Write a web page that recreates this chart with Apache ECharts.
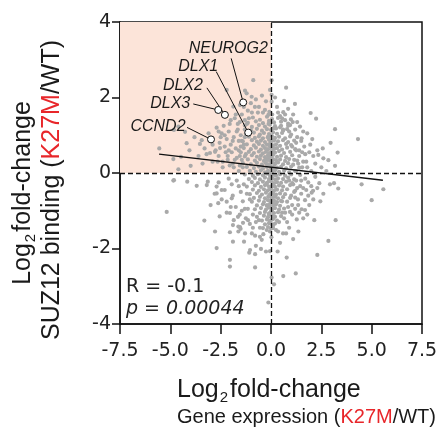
<!DOCTYPE html>
<html>
<head>
<meta charset="utf-8">
<script src="https://cdn.jsdelivr.net/npm/echarts@6/dist/echarts.min.js"></script>
<style>
  html, body { margin: 0; padding: 0; background: #fff; }
  #chart { width: 442px; height: 435px; }
</style>
</head>
<body>
<div id="chart"></div>
<script>
// x = log2 fold-change gene expression, y = log2 fold-change SUZ12 binding
const spreadPoints = [
  [-5.55,0.65],[-4.85,0.37],[-3.99,0.19],[-4.6,0.1],[-4.47,0.43],[-4.19,0.79],[-3.44,0.87],[-3.53,0.77],
  [-4.27,1.09],[-4.82,1.14],[-4.6,1.23],[-3.1,1.05],[-2.7,1.2],[-2.2,2.2],[-1.87,1.76],[-1.54,1.8],
  [-0.88,2.46],[-1.29,2.18],[-0.96,2.02],[-1.21,2.11],[-0.3,1.67],[-0.13,1.54],[-0.05,2.2],[-2.5,0.95],
  [-2.3,0.7],[-2.6,0.45],[-3.2,0.5],[-2.9,0.3],[-3.4,0.25],[-2.05,1.3],[-1.8,1.45],[-1.95,0.55],
  [-2.15,0.35],[-1.7,1.1],[-1.6,0.85],[-1.45,1.55],[-1.3,1.4],[-1.15,1.65],[-1.0,1.85],[-0.75,1.95],
  [-0.6,1.75],[-0.45,2.05],[-0.25,1.9],[-1.9,0.25],[-1.55,0.2],[-1.75,0.65],[-2.4,0.15],[-2.75,0.6],
  [-3.6,0.45],[-4.05,0.6],[-3.8,0.95],[-2.45,1.05],[-2.2,0.9],[-3.03,0.53],[-2.78,0.56],[-2.53,0.66],
  [-2.35,1.25],[-2.1,1.1],[-1.85,0.95],[-1.65,1.3],[-1.5,0.55],[-1.7,0.4],[-2.0,0.75],[-2.25,0.55],
  [-1.45,0.35],[-1.6,0.05],[-1.85,0.15],[-2.15,0.45],[-1.35,0.75],[-1.5,1.0],[-1.75,1.55],[-1.3,1.15],
  [-1.55,1.35],[-2.55,0.8],[-2.0,1.4],
  [-2.4,0.3],[-2.05,0.2],[-1.8,0.35],[-1.4,0.15],[-1.25,0.5],[-1.6,0.6],[-1.9,0.85],[-2.3,1.0],
  [-1.45,0.85],[-1.2,1.3],[-1.65,1.15],[-2.6,1.1],[-2.9,0.75],[-3.3,0.65],[-2.65,0.3],[-1.35,1.75],
  [-0.65,1.6],[-0.95,1.6],[-0.4,1.6],[-0.8,1.75],[-1.1,1.45],[-1.5,0.7],[-2.1,0.6],[-1.3,0.95],[-1.55,0.45],
  [0.75,2.26],[0.65,1.91],[1.19,1.83],[1.97,1.59],[2.24,1.44],[3.18,1.16],[0.61,1.61],[0.45,1.51],
  [0.99,1.42],[1.08,1.35],[0.03,2.46],[0.03,2.07],[0.03,1.89],[1.44,1.23],[1.52,0.92],[4.32,0.9],
  [2.96,0.8],[3.31,0.54],[2.57,0.65],[2.35,0.48],[2.6,0.39],[2.85,0.34],[3.18,0.19],[1.8,1.05],
  [2.05,0.9],[1.65,0.7],[1.9,0.55],[2.2,0.25],[2.5,0.15],[1.75,0.3],[1.4,0.45],[1.3,0.95],
  [1.55,0.15],[2.0,0.05],[2.75,0.05],[1.2,1.15],[0.85,1.7],[0.3,1.75],[0.2,2.0],[0.5,1.25],[1.1,1.55],
  [1.25,0.6],[1.5,0.85],[1.7,0.5],[1.35,0.25],[1.95,0.75],[2.3,0.6],[1.6,1.1],[1.25,0.05],[1.8,0.15],[2.1,0.45],
  [0.55,1.45],[0.85,1.25],[1.25,0.8],[1.05,0.7],[0.9,1.1],[0.7,1.55],[1.4,0.6],[1.15,0.35],
  [1.55,0.55],[0.35,1.6],[1.6,0.3],[1.3,1.35],[0.6,1.15],
  [5.58,-0.43],[5.0,-0.72],[4.5,-0.3],[3.34,-0.41],[3.13,-0.27],[2.93,-0.3],[2.4,-0.27],[3.21,-1.25],
  [2.15,-1.25],[1.6,-1.2],[1.28,-1.23],[1.69,-0.98],[1.52,-0.96],[0.94,-1.03],[1.69,-0.72],[1.34,-0.7],
  [2.09,-0.47],[2.02,-0.52],[0.1,-1.46],[1.36,-1.55],[2.85,-1.8],[0.78,-2.24],[2.3,-2.17],[1.23,-2.66],
  [0.61,-2.73],[0.03,-2.77],[0.15,-2.95],[0.25,-1.51],[0.33,-2.08],[1.85,-0.25],[2.2,-0.1],[2.6,-0.55],
  [1.45,-0.35],[1.15,-0.5],[1.9,-0.85],[1.05,-0.85],[0.8,-1.3],[0.6,-1.6],[0.45,-1.85],[1.1,-1.75],
  [0.9,-1.45],[2.45,-0.75],[0.7,-1.05],[1.25,-0.2],[1.5,-0.55],[1.7,-0.15],[2.0,-0.35],[1.35,-0.85],
  [1.6,-0.4],[1.2,-0.65],[1.85,-0.6],[2.3,-0.4],[1.45,-0.05],[1.1,-0.3],[1.05,-1.1],
  [0.55,-0.75],[0.85,-0.9],[1.3,-0.4],[1.0,-0.6],[0.65,-1.2],[0.4,-1.3],[1.2,-0.95],[0.9,-0.2],
  [1.4,-1.05],[0.35,-1.55],[0.55,-1.05],[1.75,-0.45],[2.1,-0.7],[0.75,-1.6],[1.5,-0.2],[1.8,-1.1],
  [-4.82,-0.19],[-4.85,-0.2],[-4.16,-0.23],[-3.69,-0.34],[-3.14,-0.23],[-3.19,-0.32],[-5.18,-1.03],[-3.31,-1.26],
  [-2.78,-1.55],[-2.7,-1.99],[-2.04,-2.3],[-2.04,-2.48],[-0.79,-2.5],[-2.04,-1.57],[-1.62,-1.42],[-1.51,-1.48],
  [-1.29,-1.6],[-0.79,-1.66],[-0.55,-1.69],[-0.38,-1.62],[-0.21,-1.51],[-1.34,-1.82],[-0.75,-1.93],[-0.46,-1.77],
  [-1.08,-2.11],[-0.79,-2.15],[-0.5,-2.01],[-0.25,-2.08],[-0.05,-2.07],[-0.13,-3.43],[-2.6,-0.25],[-2.3,-0.45],
  [-2.1,-0.15],[-2.45,-0.7],[-1.9,-0.6],[-1.75,-0.9],[-2.2,-1.05],[-1.55,-1.1],[-1.85,-1.25],[-1.4,-0.75],
  [-1.25,-1.2],[-1.05,-1.35],[-2.8,-0.55],[-3.0,-0.85],[-2.55,-1.15],[-1.6,-0.35],[-1.95,-0.3],[-1.15,-0.95],
  [-0.9,-1.45],[-0.6,-1.25],[-1.62,-1.55],[-1.89,-1.82],[-1.04,-2.04],[-2.04,-1.06],[-1.64,-1.16],[-1.39,-1.32],
  [-1.14,-1.25],[-1.89,-1.38],[-1.54,-1.43],[-2.7,-0.36],[-2.45,-0.45],[-2.7,-0.54],[-2.62,-0.8],[-2.2,-0.76],[-1.95,-0.67],
  [-1.35,-0.3],[-1.2,-0.55],[-0.9,-1.1],[-1.5,-0.5],[-1.05,-0.7],[-0.75,-1.3],[-0.55,-1.45],[-1.7,-0.2],
  [-1.3,-0.95],[-0.95,-1.6],[-2.0,-0.9],[-1.45,-1.0]
];

const corePoints = [
  [-0.9,1.47],[-0.55,1.41],[-0.2,1.49],[0.05,1.43],[0.35,1.46],[0.7,1.4],
  [-1.15,1.33],[-0.75,1.37],[-0.4,1.32],[-0.1,1.38],[0.15,1.34],[0.5,1.36],[0.85,1.31],
  [-1.3,1.26],[-0.95,1.22],[-0.6,1.27],[-0.3,1.23],[-0.05,1.28],[0.2,1.24],[0.45,1.21],[0.95,1.27],
  [-1.0,1.13],[-0.7,1.17],[-0.45,1.12],[-0.2,1.16],[0.0,1.14],[0.25,1.18],[0.6,1.12],[0.8,1.16],
  [-1.25,1.04],[-0.85,1.07],[-0.55,1.02],[-0.35,1.06],[-0.1,1.03],[0.1,1.08],[0.3,1.04],[0.55,1.06],[1.0,1.02],
  [-1.1,0.96],[-0.8,0.93],[-0.6,0.97],[-0.4,0.92],[-0.15,0.95],[0.05,0.98],[0.2,0.93],[0.4,0.96],[0.7,0.92],[0.95,0.97],
  [-1.4,0.84],[-0.95,0.87],[-0.7,0.83],[-0.5,0.86],[-0.3,0.82],[-0.1,0.88],[0.0,0.83],[0.15,0.86],[0.35,0.84],[0.6,0.87],[0.85,0.82],[1.15,0.86],
  [-1.2,0.76],[-0.85,0.73],[-0.6,0.77],[-0.4,0.72],[-0.2,0.75],[-0.05,0.78],[0.1,0.73],[0.25,0.76],[0.45,0.72],[0.75,0.77],[1.0,0.74],
  [-1.35,0.66],[-1.0,0.63],[-0.75,0.67],[-0.5,0.62],[-0.3,0.66],[-0.15,0.63],[0.0,0.68],[0.15,0.64],[0.3,0.66],[0.55,0.62],[0.8,0.67],[1.2,0.63],
  [-1.1,0.56],[-0.85,0.53],[-0.6,0.57],[-0.4,0.52],[-0.25,0.56],[-0.1,0.53],[0.05,0.57],[0.2,0.54],[0.4,0.58],[0.65,0.53],[0.95,0.56],
  [-1.3,0.44],[-0.95,0.47],[-0.7,0.43],[-0.5,0.46],[-0.3,0.42],[-0.15,0.47],[0.0,0.44],[0.1,0.48],[0.3,0.43],[0.5,0.46],[0.75,0.42],[1.05,0.47],
  [-1.15,0.36],[-0.8,0.33],[-0.55,0.37],[-0.35,0.32],[-0.2,0.36],[-0.05,0.33],[0.1,0.37],[0.25,0.34],[0.45,0.36],[0.7,0.32],[0.9,0.37],[1.3,0.33],
  [-1.4,0.26],[-1.0,0.23],[-0.7,0.27],[-0.45,0.22],[-0.25,0.26],[-0.1,0.23],[0.05,0.27],[0.2,0.24],[0.35,0.28],[0.6,0.23],[0.85,0.26],[1.1,0.22],
  [-1.2,0.16],[-0.85,0.13],[-0.6,0.17],[-0.4,0.12],[-0.2,0.16],[0.0,0.13],[0.15,0.17],[0.3,0.14],[0.5,0.16],[0.75,0.12],[1.0,0.17],[1.4,0.14],
  [-1.05,0.06],[-0.75,0.03],[-0.5,0.07],[-0.3,0.02],[-0.15,0.06],[0.05,0.04],[0.2,0.07],[0.4,0.03],[0.65,0.06],[0.9,0.02],[1.2,0.05],
  [-1.3,-0.04],[-0.9,-0.07],[-0.65,-0.03],[-0.4,-0.06],[-0.2,-0.02],[-0.05,-0.07],[0.1,-0.04],[0.25,-0.06],[0.45,-0.03],[0.7,-0.07],[1.0,-0.04],
  [-1.1,-0.16],[-0.8,-0.13],[-0.55,-0.17],[-0.3,-0.12],[-0.1,-0.16],[0.05,-0.13],[0.2,-0.17],[0.35,-0.14],[0.6,-0.16],[0.85,-0.12],[1.15,-0.17],
  [-0.95,-0.24],[-0.65,-0.27],[-0.4,-0.23],[-0.2,-0.26],[0.0,-0.22],[0.15,-0.27],[0.3,-0.24],[0.5,-0.26],[0.75,-0.23],[1.05,-0.27],
  [-1.2,-0.36],[-0.8,-0.33],[-0.5,-0.37],[-0.3,-0.32],[-0.1,-0.36],[0.05,-0.34],[0.2,-0.37],[0.4,-0.33],[0.6,-0.36],[0.95,-0.32],
  [-0.9,-0.44],[-0.6,-0.47],[-0.35,-0.43],[-0.15,-0.46],[0.0,-0.42],[0.15,-0.47],[0.3,-0.44],[0.55,-0.46],[0.8,-0.43],[1.2,-0.47],
  [-1.05,-0.56],[-0.7,-0.53],[-0.45,-0.57],[-0.25,-0.52],[-0.05,-0.56],[0.1,-0.53],[0.25,-0.57],[0.45,-0.54],[0.7,-0.56],
  [-0.85,-0.66],[-0.55,-0.63],[-0.3,-0.67],[-0.1,-0.62],[0.05,-0.66],[0.2,-0.63],[0.35,-0.67],[0.6,-0.64],[0.95,-0.66],
  [-0.95,-0.76],[-0.6,-0.73],[-0.35,-0.77],[-0.15,-0.72],[0.0,-0.76],[0.15,-0.73],[0.3,-0.77],[0.5,-0.74],[0.8,-0.76],
  [-0.7,-0.86],[-0.4,-0.83],[-0.2,-0.87],[-0.05,-0.82],[0.1,-0.86],[0.25,-0.83],[0.45,-0.87],
  [-0.8,-0.96],[-0.5,-0.93],[-0.25,-0.97],[-0.1,-0.92],[0.05,-0.96],[0.2,-0.93],[0.4,-0.97],[0.65,-0.94],
  [-0.55,-1.06],[-0.3,-1.03],[-0.1,-1.07],[0.0,-1.02],[0.15,-1.06],[0.35,-1.04],
  [-0.7,-1.16],[-0.35,-1.13],[-0.15,-1.17],[0.05,-1.12],[0.2,-1.16],[0.5,-1.14],
  [-0.45,-1.26],[-0.2,-1.23],[-0.05,-1.27],[0.1,-1.22],[0.3,-1.26],
  [-0.3,-1.36],[-0.1,-1.33],[0.05,-1.37],[0.2,-1.34],
  [-0.4,-1.46],[-0.15,-1.43],[0.0,-1.47],
  [-0.08,1.62],[0.06,1.55],[-0.12,1.3],[0.12,1.18],[-0.02,1.0],[0.08,0.88],[-0.06,0.72],[0.03,0.58],
  [-0.09,0.42],[0.07,0.3],[-0.03,0.18],[0.11,0.08],[-0.07,-0.02],[0.02,-0.12],[-0.11,-0.22],[0.09,-0.33],
  [-0.04,-0.42],[0.05,-0.52],[-0.13,-0.62],[0.0,-0.72],[0.12,-0.82],[-0.06,-0.9],[0.04,-1.0],[-0.1,-1.1],
  [0.08,-1.2],[-0.02,-1.3],[0.1,-1.4],[-0.05,-1.55],[0.02,-1.7],[-0.15,0.95],[0.18,0.65],[-0.18,0.35],
  [0.2,-0.05],[-0.22,-0.3],[0.17,-0.6],[-0.2,-0.85]
];

const geneNames = ['NEUROG2', 'DLX1', 'DLX2', 'DLX3', 'CCND2'];
const geneX = [-1.38, -1.13, -2.29, -2.62, -2.98];
const geneY = [1.87, 1.07, 1.54, 1.67, 0.89];

// regression line end points
const fitX = [-5.56, 5.56];
const fitY = [0.5, -0.19];

const xTicks = { min: -7.5, max: 7.5, step: 2.5 };
const yTicks = { min: -4, max: 4, step: 2 };

const statLines = ['R = -0.1', 'p = 0.00044'];

// label placement in pixels relative to each gene point: text centre, leader start
const labelOffsets = {
  NEUROG2: { text: [-15, -54], line: [-12, -44] },
  DLX1: { text: [-50, -66], line: [-32, -61] },
  DLX2: { text: [-42, -29], line: [-18, -27] },
  DLX3: { text: [-48, -6], line: [-25, -6] },
  CCND2: { text: [-53, -13], line: [-24, -12] }
};

const chart = echarts.init(document.getElementById('chart'));

const ink = '#1a1a1a';
const red = '#e8262a';
const tickFont = { fontFamily: 'DejaVu Sans', fontSize: 19, color: '#222' };

function richFor(size, subSize, subPad) {
  return {
    a: { fontFamily: 'Liberation Sans', fontSize: size, lineHeight: size + 5, fill: ink },
    s: { fontFamily: 'Liberation Sans', fontSize: subSize, lineHeight: subSize, padding: [subPad, 2, 0, 1], fill: ink },
    r: { fontFamily: 'Liberation Sans', fontSize: size, lineHeight: size + 5, fill: red }
  };
}
const bigRich = richFor(25, 15, 15);
const smallRich = richFor(20, 13, 12);

const option = {
  animation: false,
  grid: { left: 120, top: 22, width: 302, height: 302, show: true, borderColor: '#111', borderWidth: 1.5, backgroundColor: 'transparent' },
  xAxis: {
    type: 'value', min: xTicks.min, max: xTicks.max, interval: xTicks.step,
    axisLine: { onZero: false, lineStyle: { color: '#111', width: 1.5 } },
    axisTick: { length: 10, lineStyle: { color: '#111', width: 1.5 } },
    axisLabel: Object.assign({ margin: 18, formatter: v => v.toFixed(1) }, tickFont),
    splitLine: { show: false }
  },
  yAxis: {
    type: 'value', min: yTicks.min, max: yTicks.max, interval: yTicks.step,
    axisLine: { onZero: false, lineStyle: { color: '#111', width: 1.5 } },
    axisTick: { length: 8, lineStyle: { color: '#111', width: 1.5 } },
    axisLabel: Object.assign({ margin: 9 }, tickFont),
    splitLine: { show: false }
  },
  graphic: [
    {
      type: 'text', x: 177, y: 390, z: 10,
      style: { text: '{a|Log}{s|2}{a|fold-change}', rich: bigRich, align: 'left', verticalAlign: 'middle' }
    },
    {
      type: 'text', x: 177, y: 417, z: 10,
      style: { text: '{a|Gene expression (}{r|K27M}{a|/WT)}', rich: smallRich, align: 'left', verticalAlign: 'middle' }
    },
    {
      type: 'text', x: 23, y: 193, rotation: Math.PI / 2, z: 10,
      style: { text: '{a|Log}{s|2}{a|fold-change}', rich: bigRich, align: 'center', verticalAlign: 'middle' }
    },
    {
      type: 'text', x: 52, y: 190, rotation: Math.PI / 2, z: 10,
      style: { text: '{a|SUZ12 binding (}{r|K27M}{a|/WT)}', rich: bigRich, align: 'center', verticalAlign: 'middle' }
    },
    {
      type: 'text', x: 126, y: 287, z: 10,
      style: { text: statLines[0], fontFamily: 'DejaVu Sans', fontSize: 19, fill: '#222', verticalAlign: 'middle' }
    },
    {
      type: 'text', x: 126, y: 309, z: 10,
      style: { text: statLines[1], fontFamily: 'DejaVu Sans', fontStyle: 'italic', fontSize: 19, fill: '#222', verticalAlign: 'middle' }
    }
  ],
  series: [
    {
      // shaded quadrant
      type: 'scatter', z: 1, data: [], silent: true,
      markArea: {
        silent: true,
        itemStyle: { color: '#fce4d9' },
        data: [[{ coord: [xTicks.min, 0] }, { coord: [0, yTicks.max] }]]
      }
    },
    {
      type: 'scatter', z: 2, symbolSize: 4.2,
      itemStyle: { color: '#a9a9a9', opacity: 1 },
      data: spreadPoints.concat(corePoints)
    },
    {
      // zero reference lines
      type: 'scatter', z: 3, data: [], silent: true,
      markLine: {
        silent: true, symbol: 'none', label: { show: false },
        lineStyle: { color: '#111', type: [5, 3], width: 1.3 },
        data: [{ xAxis: 0 }, { yAxis: 0 }]
      }
    },
    {
      type: 'line', z: 4, symbol: 'none', silent: true,
      lineStyle: { color: '#111', width: 1.5 },
      data: fitX.map((x, i) => [x, fitY[i]])
    },
    {
      type: 'custom', z: 5, clip: false,
      data: geneNames.map((n, i) => [geneX[i], geneY[i]]),
      renderItem: function (params, api) {
        const name = geneNames[params.dataIndex];
        const p = api.coord([api.value(0), api.value(1)]);
        const o = labelOffsets[name];
        return {
          type: 'group',
          children: [
            { type: 'line', shape: { x1: p[0] + o.line[0], y1: p[1] + o.line[1], x2: p[0], y2: p[1] }, style: { stroke: '#111', lineWidth: 1 } },
            { type: 'circle', shape: { cx: p[0], cy: p[1], r: 3.5 }, style: { fill: '#fff', stroke: '#111', lineWidth: 1 } },
            {
              type: 'text', x: p[0] + o.text[0], y: p[1] + o.text[1],
              style: { text: name, fontFamily: 'Liberation Sans', fontStyle: 'italic', fontSize: 16, fill: ink, align: 'center', verticalAlign: 'middle' }
            }
          ]
        };
      }
    }
  ]
};

chart.setOption(option);
</script>
</body>
</html>
